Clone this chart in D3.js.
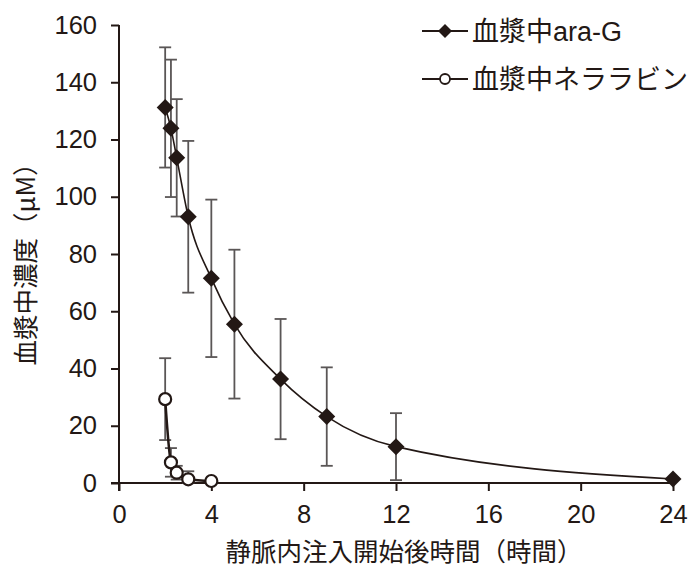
<!DOCTYPE html>
<html>
<head>
<meta charset="utf-8">
<script src="https://cdn.jsdelivr.net/npm/d3@7"></script>
<style>
  html, body { margin: 0; padding: 0; background: #fff; }
  svg { display: block; }
  text { font-family: "Liberation Sans", "Noto Sans CJK JP", sans-serif; fill: #231815; }
</style>
</head>
<body>
<svg id="chart" width="695" height="568"></svg>
<script>
// ---- data ----
const timesAraG = [2, 2.25, 2.5, 3, 4, 5, 7, 9, 12, 24];
const meanAraG  = [131.2, 123.9, 113.6, 93.0, 71.5, 55.5, 36.3, 23.2, 12.7, 1.4];
const sdAraG    = [21, 24, 20.5, 26.5, 27.5, 26, 21, 17.2, 11.7, 0];

const timesNel = [2, 2.25, 2.5, 3, 4];
const meanNel  = [29.3, 7.2, 3.6, 1.3, 0.7];
const sdNel    = [14.3, 5, 2.4, 2.8, 0];

const xTicks = [0, 4, 8, 12, 16, 20, 24];
const yTicks = [0, 20, 40, 60, 80, 100, 120, 140, 160];

const seriesNames = ["血漿中ara-G", "血漿中ネララビン"];
const xLabel = "静脈内注入開始後時間（時間）";
const yLabel = "血漿中濃度（μM）";

// ---- drawing ----
const ink = "#231815";
const errInk = "#5a5656";
const svg = d3.select("#chart");

const x = d3.scaleLinear().domain([0, 24]).range([119, 673]);
const y = d3.scaleLinear().domain([0, 160]).range([483, 25]);

// axes
const xAxis = d3.axisBottom(x).tickValues(xTicks).tickSize(8).tickPadding(14).tickFormat(d3.format("d"));
const yAxis = d3.axisLeft(y).tickValues(yTicks).tickSize(8).tickPadding(14).tickFormat(d3.format("d"));

const gx = svg.append("g").attr("transform", `translate(0,${y(0)})`).call(xAxis);
const gy = svg.append("g").attr("transform", `translate(${x(0)},0)`).call(yAxis);
[gx, gy].forEach(g => {
  g.select(".domain").attr("stroke", ink).attr("stroke-width", 2);
  g.selectAll(".tick line").attr("stroke", ink).attr("stroke-width", 2);
  g.selectAll(".tick text").attr("fill", ink).style("font-size", "25.5px")
    .style("font-family", "'Liberation Sans', sans-serif");
});
// extend x domain line to the left to meet the y tick at 0
gx.select(".domain").attr("d", `M${x(0) - 8},0H${x(24)}`);
gy.select(".domain").attr("d", `M0,${y(160)}V${y(0) + 8}`);

// axis labels
svg.append("text")
  .attr("x", 404).attr("y", 561)
  .attr("text-anchor", "middle")
  .style("font-size", "25.5px")
  .style("font-family", "'Noto Sans CJK JP', sans-serif")
  .text(xLabel);

svg.append("text")
  .attr("transform", `translate(35,${(y(0) + y(160)) / 2 + 4}) rotate(-90)`)
  .attr("text-anchor", "middle")
  .style("font-size", "25.5px")
  .style("font-family", "'Noto Sans CJK JP', sans-serif")
  .text(yLabel);

// error bars
function errorBars(times, means, sds) {
  const g = svg.append("g").attr("stroke", errInk).attr("stroke-width", 1.8).attr("fill", "none");
  times.forEach((t, i) => {
    if (sds[i] <= 0) return;
    const cx = x(t);
    const top = y(means[i] + sds[i]);
    const bot = y(Math.max(0, means[i] - sds[i]));
    g.append("line").attr("x1", cx).attr("x2", cx).attr("y1", top).attr("y2", bot);
    g.append("line").attr("x1", cx - 6).attr("x2", cx + 6).attr("y1", top).attr("y2", top);
    g.append("line").attr("x1", cx - 6).attr("x2", cx + 6).attr("y1", bot).attr("y2", bot);
  });
}
errorBars(timesAraG, meanAraG, sdAraG);
errorBars(timesNel, meanNel, sdNel);

// lines
const line = d3.line().x(d => x(d[0])).y(d => y(d[1])).curve(d3.curveMonotoneX);
svg.append("path")
  .datum(timesAraG.map((t, i) => [t, meanAraG[i]]))
  .attr("d", line).attr("fill", "none").attr("stroke", ink).attr("stroke-width", 1.6);
svg.append("path")
  .datum(timesNel.map((t, i) => [t, meanNel[i]]))
  .attr("d", line).attr("fill", "none").attr("stroke", ink).attr("stroke-width", 2.5);

// markers
const diamond = (cx, cy, r) => `M${cx},${cy - r}L${cx + r},${cy}L${cx},${cy + r}L${cx - r},${cy}Z`;
svg.append("g").selectAll("path")
  .data(timesAraG.map((t, i) => [t, meanAraG[i]]))
  .join("path")
  .attr("d", d => diamond(x(d[0]), y(d[1]), 8.5))
  .attr("fill", ink);

svg.append("g").selectAll("circle")
  .data(timesNel.map((t, i) => [t, meanNel[i]]))
  .join("circle")
  .attr("cx", d => x(d[0])).attr("cy", d => y(d[1])).attr("r", 6)
  .attr("fill", "#fff").attr("stroke", ink).attr("stroke-width", 2.2);

// legend
const legendRows = [31, 79];
legendRows.forEach((ly, i) => {
  const g = svg.append("g");
  g.append("line").attr("x1", 422).attr("x2", 468).attr("y1", ly).attr("y2", ly)
    .attr("stroke", ink).attr("stroke-width", 2);
  if (i === 0) {
    g.append("path").attr("d", diamond(445, ly, 7)).attr("fill", ink);
  } else {
    g.append("circle").attr("cx", 445).attr("cy", ly).attr("r", 5)
      .attr("fill", "#fff").attr("stroke", ink).attr("stroke-width", 1.8);
  }
  g.append("text").attr("x", 472).attr("y", ly + 10)
    .style("font-size", "27px")
    .text(seriesNames[i]);
});
</script>
</body>
</html>
